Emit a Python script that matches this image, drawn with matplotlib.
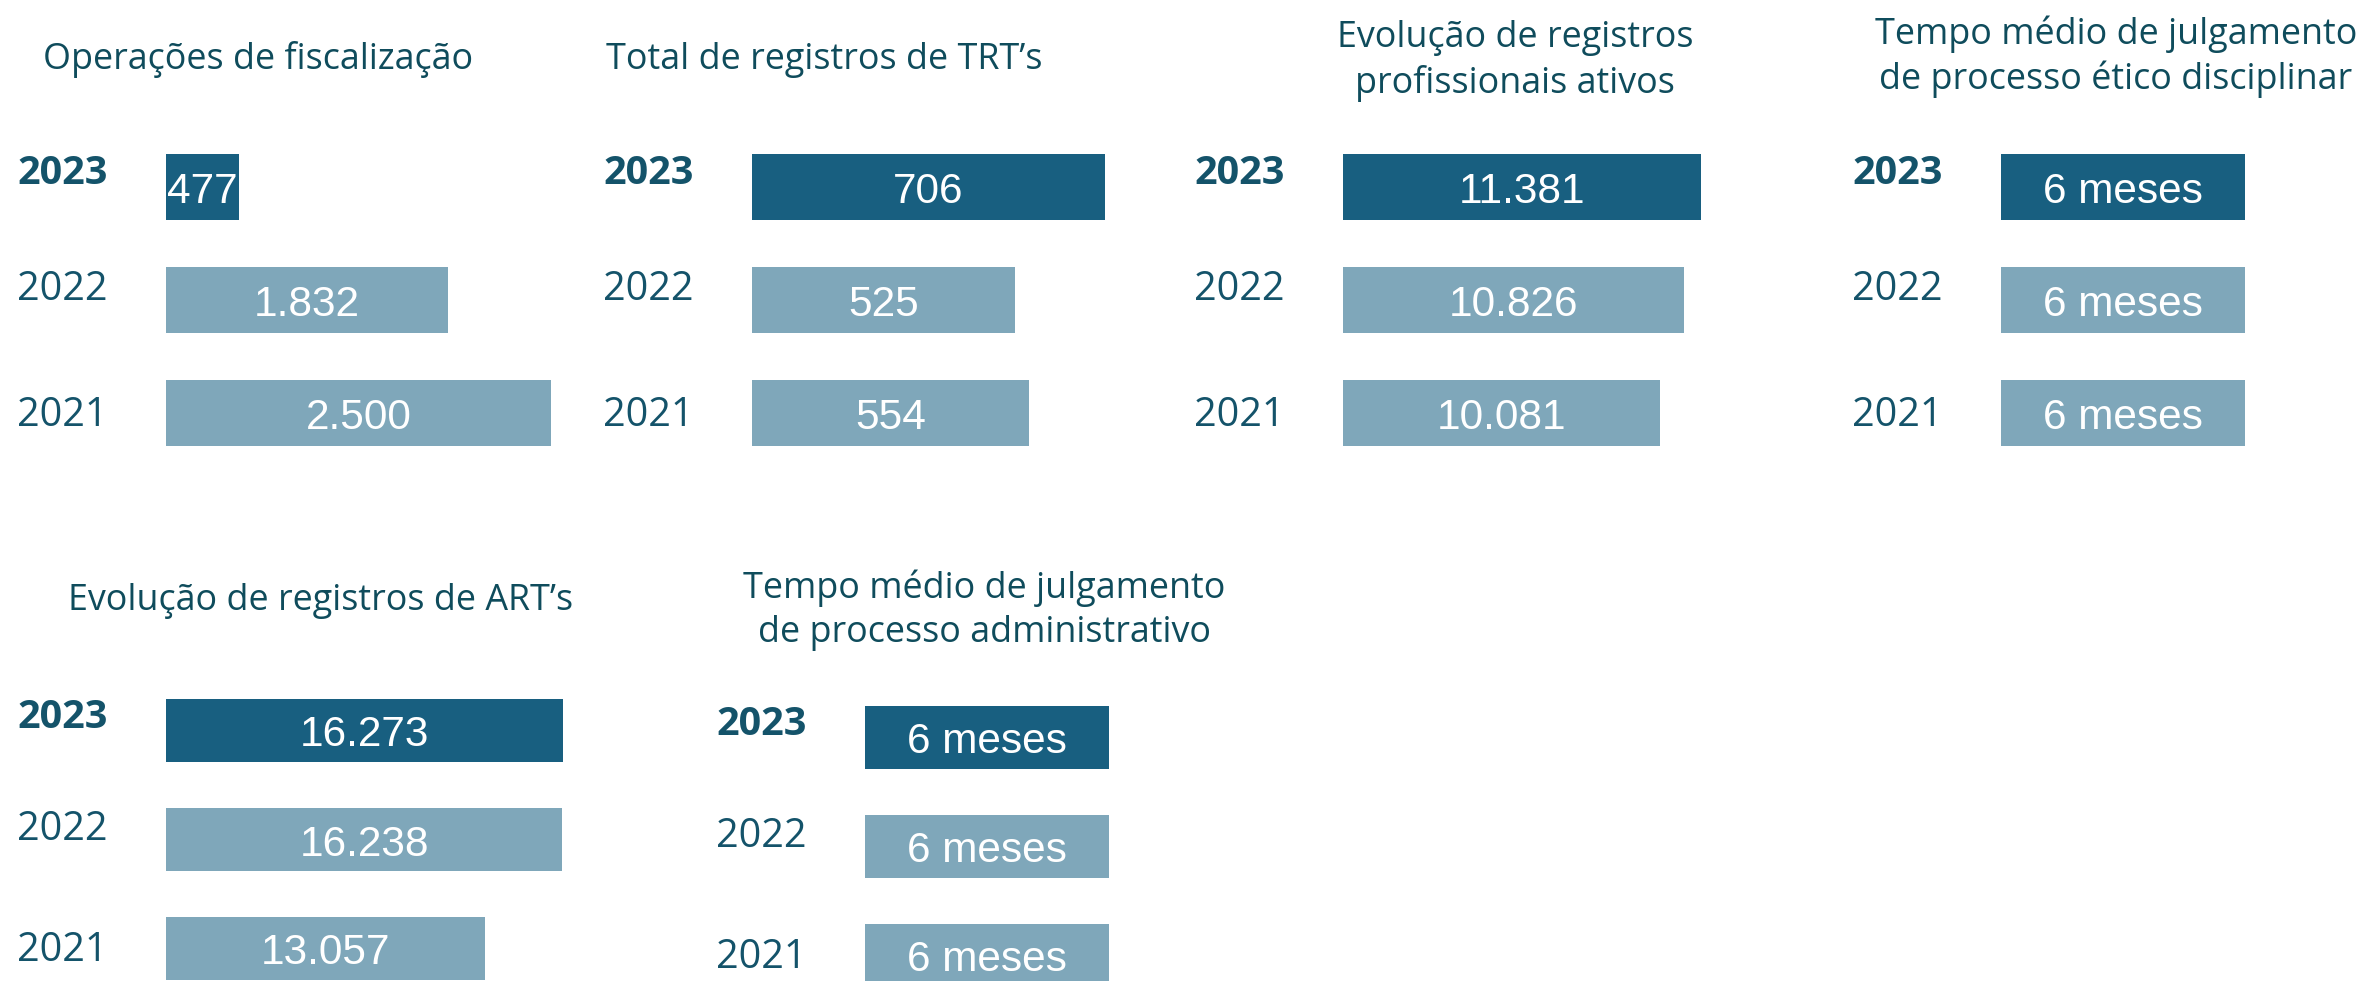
import matplotlib
matplotlib.use("Agg")
import matplotlib.pyplot as plt
import matplotlib.transforms as mtransforms

# ---------------- data ----------------
years = ["2023", "2022", "2021"]
operacoes_fiscalizacao = [477, 1832, 2500]
registros_trt = [706, 525, 554]
registros_profissionais = [11381, 10826, 10081]
tempo_etico_meses = [6, 6, 6]
registros_art = [16273, 16238, 13057]
tempo_admin_meses = [6, 6, 6]

titles = {
    "ops": "Operações de fiscalização",
    "trt": "Total de registros de TRT’s",
    "prof": "Evolução de registros\nprofissionais ativos",
    "etico": "Tempo médio de julgamento\nde processo ético disciplinar",
    "art": "Evolução de registros de ART’s",
    "adm": "Tempo médio de julgamento\nde processo administrativo",
}

# ---------------- style ----------------
W, H = 2361, 981
DARK = "#185F80"
LIGHT = "#7FA7BA"
TEXT = "#14536A"
TITLE = "#0F4C5C"
TITLE_FONT = "Open Sans"
VALUE_FONT = "Liberation Sans"

fig = plt.figure(figsize=(W / 100, H / 100), dpi=100)
fig.patch.set_facecolor("white")


def fmt_thousands(v):
    return f"{v:,}".replace(",", ".")


def fmt_meses(v):
    return f"{v} meses"


def panel(key, values, fmt, left_px, width_px, top_px, bottom_px,
          title_x_px, title_y_px, title_line_gap_px=45):
    ax = fig.add_axes([left_px / W, 1 - bottom_px / H,
                       width_px / W, (bottom_px - top_px) / H])
    ax.set_xlim(0, max(values))
    ax.set_ylim(len(values) - 0.5, -0.5)
    ax.axis("off")
    ypos = list(range(len(values)))
    colors = [DARK] + [LIGHT] * (len(values) - 1)
    ax.barh(ypos, values, height=0.58, color=colors, clip_on=False)
    down = mtransforms.ScaledTranslation(0, -5 / 100, fig.dpi_scale_trans)
    for y, v in zip(ypos, values):
        ax.text(v / 2, y, fmt(v), ha="center", va="center",
                transform=ax.transData + down,
                color="white", fontsize=30.5, family=VALUE_FONT)
    # year labels, left aligned 149 px left of the bar start
    offs = mtransforms.ScaledTranslation(-149 / 100, 0, fig.dpi_scale_trans)
    trans = mtransforms.blended_transform_factory(ax.transAxes, ax.transData) + offs
    label_shift = [-0.12, -0.09, 0.02]
    for i, yr in enumerate(years):
        ax.text(0, i + label_shift[i], yr, transform=trans, ha="left",
                va="center", fontsize=28.5, family=TITLE_FONT,
                fontweight="bold" if i == 0 else "normal", color=TEXT)
    # title lines
    for j, line in enumerate(titles[key].split("\n")):
        fig.text(title_x_px / W, 1 - (title_y_px + j * title_line_gap_px) / H,
                 line, ha="center", va="center", fontsize=25.8,
                 family=TITLE_FONT, color=TITLE)
    return ax


TOP_ROW = (130, 470)
BOT_ROW = (676, 1003)
BOT_ROW_B = (683, 1010)

panel("ops", operacoes_fiscalizacao, fmt_thousands, 166, 385, *TOP_ROW, 258, 60)
panel("trt", registros_trt, fmt_thousands, 752, 353, *TOP_ROW, 824, 60)
panel("prof", registros_profissionais, fmt_thousands, 1343, 358, *TOP_ROW, 1515, 38)
panel("etico", tempo_etico_meses, fmt_meses, 2001, 244, *TOP_ROW, 2116, 34)
panel("art", registros_art, fmt_thousands, 166, 397, *BOT_ROW, 321, 601)
panel("adm", tempo_admin_meses, fmt_meses, 865, 244, *BOT_ROW_B, 984, 588)

fig.savefig("out.png", dpi=100, facecolor="white")
